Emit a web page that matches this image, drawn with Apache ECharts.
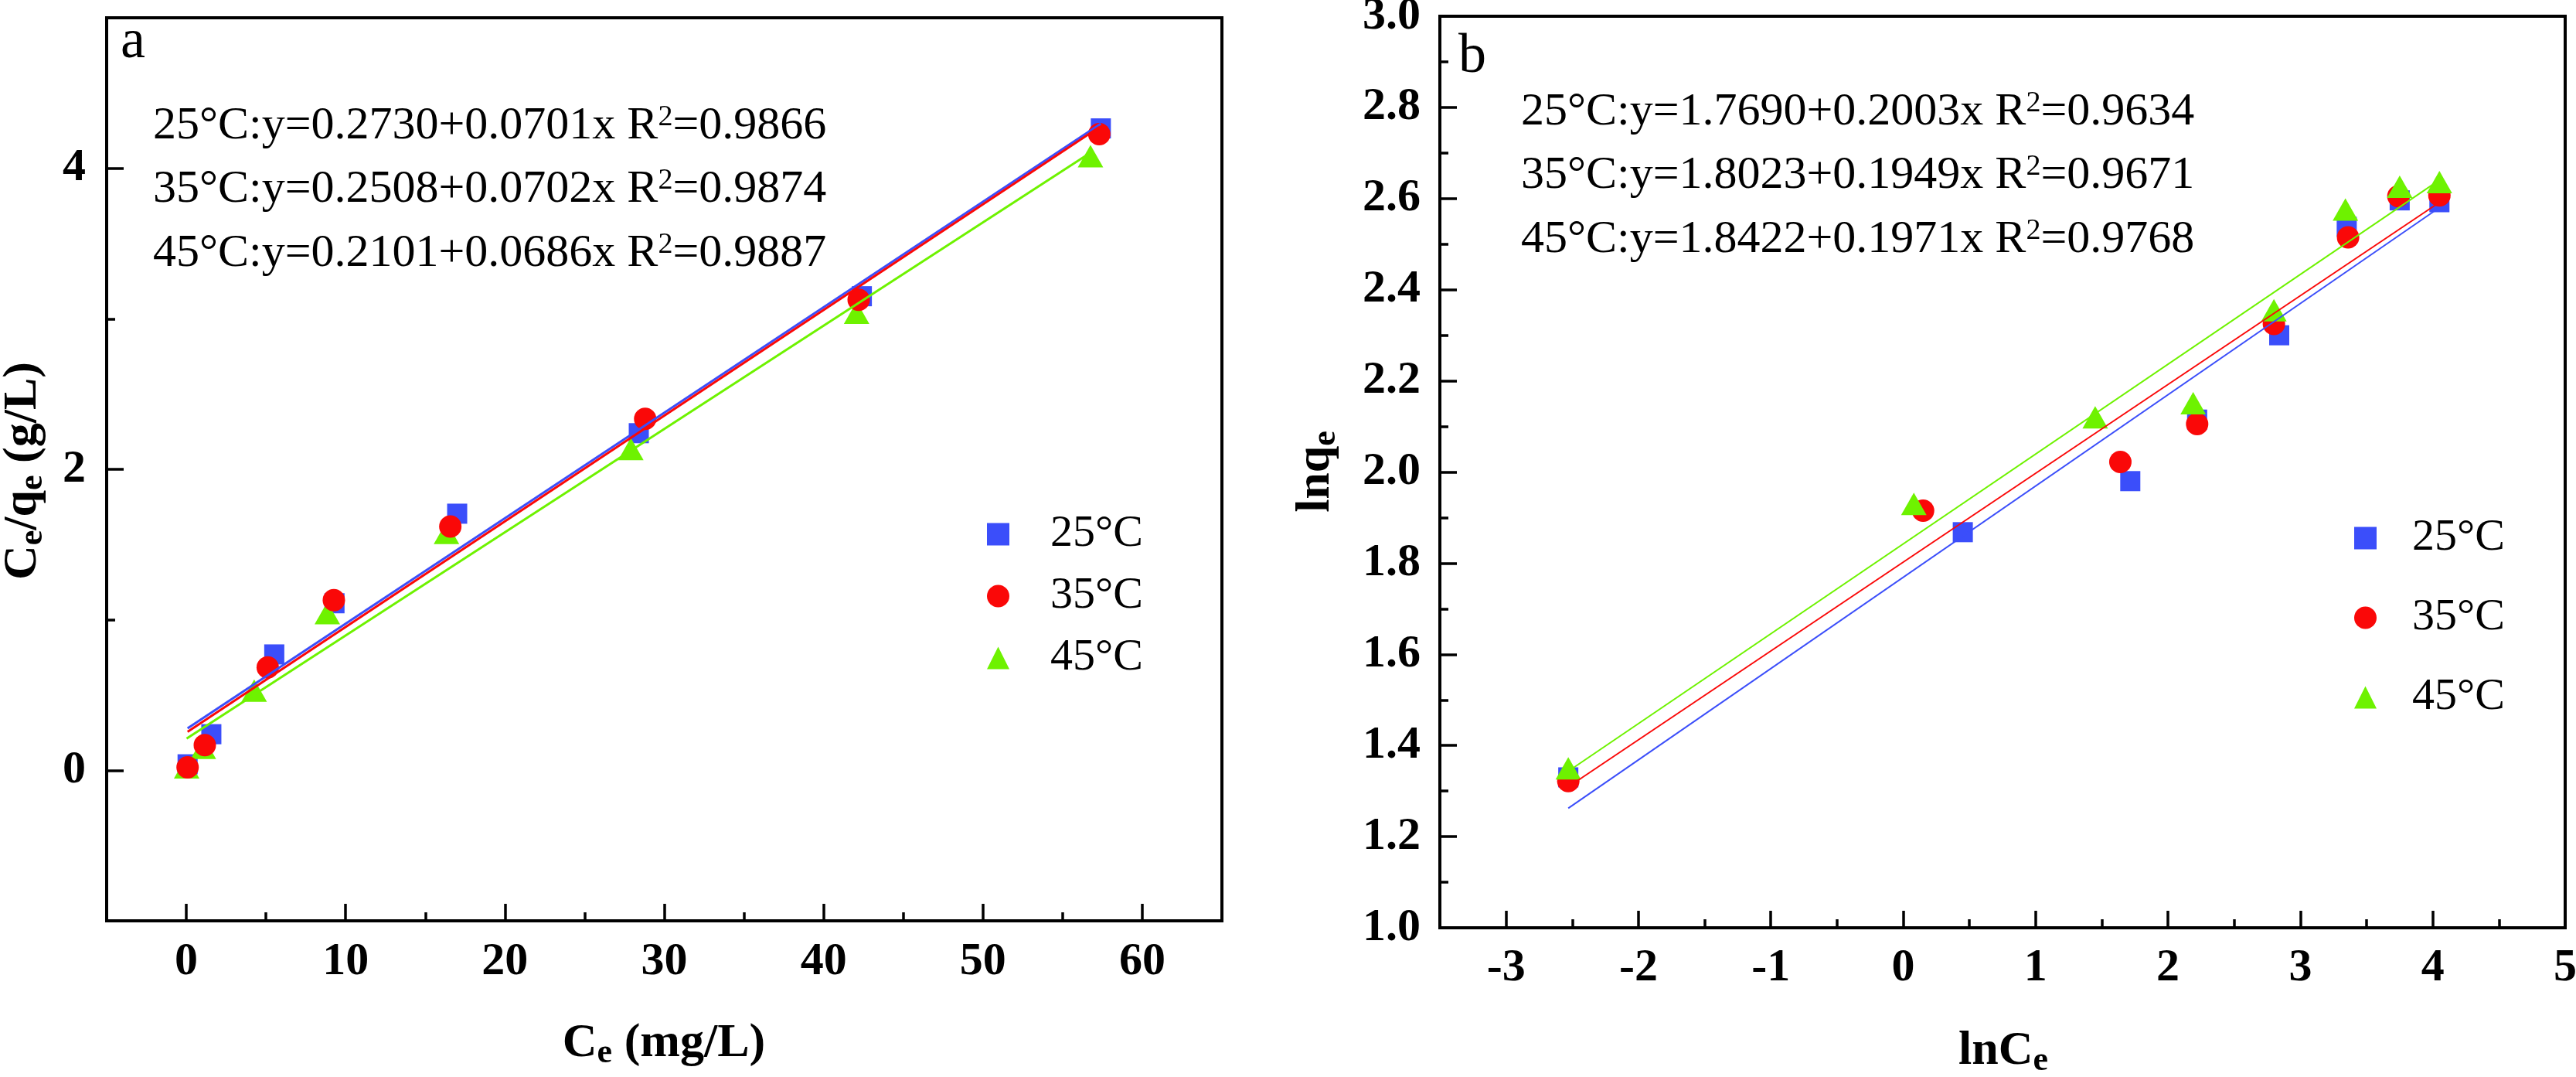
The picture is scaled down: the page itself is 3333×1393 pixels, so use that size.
<!DOCTYPE html>
<html>
<head>
<meta charset="utf-8">
<script src="https://cdn.jsdelivr.net/npm/echarts@6/dist/echarts.min.js"></script>
<style>html,body{margin:0;padding:0;background:#fff;}#chart{width:3333px;height:1393px;}</style>
</head>
<body>
<div id="chart"></div>
<script>
// ---------- data ----------
const tempNames = ['25°C', '35°C', '45°C'];
const colors = ['#3B4EFA', '#FA0808', '#6EF200'];
const symbols = ['rect', 'circle', 'triangle'];

// panel a: Ce (mg/L) vs Ce/qe (g/L)
const aCe25 = [0.08, 1.57, 5.52, 9.30, 17.0, 28.4, 42.4, 57.4];
const aRatio25 = [0.04, 0.24, 0.77, 1.11, 1.705, 2.24, 3.15, 4.265];
const aCe35 = [0.08, 1.16, 5.11, 9.26, 16.57, 28.8, 42.2, 57.3];
const aRatio35 = [0.02, 0.168, 0.684, 1.131, 1.62, 2.335, 3.126, 4.227];
const aCe45 = [0.02, 1.07, 4.26, 8.85, 16.33, 27.9, 42.07, 56.75];
const aRatio45 = [0.02, 0.15, 0.529, 1.045, 1.578, 2.135, 3.04, 4.08];
const aIntercept = [0.2730, 0.2508, 0.2101];
const aSlope = [0.0701, 0.0702, 0.0686];
const aR2 = [0.9866, 0.9874, 0.9887];
const aXTicks = [0, 10, 20, 30, 40, 50, 60];
const aXMinor = [5, 15, 25, 35, 45, 55];
const aYTicks = [0, 2, 4];
const aYMinor = [1, 3];

// panel b: lnCe vs lnqe
const bLnCe25 = [-2.53, 0.45, 1.715, 2.22, 2.84, 3.35, 3.75, 4.05];
const bLnQe25 = [1.33, 1.868, 1.98, 2.115, 2.30, 2.538, 2.596, 2.592];
const bLnCe35 = [-2.53, 0.15, 1.64, 2.22, 2.80, 3.36, 3.74, 4.05];
const bLnQe35 = [1.322, 1.915, 2.022, 2.105, 2.325, 2.515, 2.605, 2.607];
const bLnCe45 = [-2.53, 0.08, 1.45, 2.19, 2.80, 3.34, 3.75, 4.05];
const bLnQe45 = [1.35, 1.93, 2.12, 2.151, 2.355, 2.576, 2.626, 2.636];
const bIntercept = [1.7690, 1.8023, 1.8422];
const bSlope = [0.2003, 0.1949, 0.1971];
const bR2 = [0.9634, 0.9671, 0.9768];
const bXTicks = [-3, -2, -1, 0, 1, 2, 3, 4, 5];
const bXMinor = [-2.5, -1.5, -0.5, 0.5, 1.5, 2.5, 3.5, 4.5];

// ---------- helpers ----------
const FF = "'Liberation Serif','Times New Roman',serif";
const zip = (xs, ys) => xs.map((x, i) => [x, ys[i]]);
const fitLine = (xs, b0, b1) => {
  const lo = Math.min(...xs), hi = Math.max(...xs);
  return [[lo, b0 + b1 * lo], [hi, b0 + b1 * hi]];
};
const aX = [aCe25, aCe35, aCe45], aY = [aRatio25, aRatio35, aRatio45];
const bX = [bLnCe25, bLnCe35, bLnCe45], bY = [bLnQe25, bLnQe35, bLnQe45];
const symSize = [26, 29, [33, 29]];

const tickStyle = {color: '#000', width: 3.5};
const labelStyle = {fontFamily: FF, fontWeight: 'bold', fontSize: 60, color: '#000'};

function majorAxis(grid, min, max, ticks, margin, pos) {
  return {
    type: 'value', gridIndex: grid, min: min, max: max, position: pos,
    axisLine: {show: true, onZero: false, lineStyle: {color: '#000', width: 4}},
    axisTick: {show: true, inside: true, length: 22, lineStyle: tickStyle, customValues: ticks},
    axisLabel: Object.assign({margin: margin, customValues: ticks}, labelStyle),
    splitLine: {show: false}
  };
}
function minorAxis(grid, min, max, ticks, pos) {
  return {
    type: 'value', gridIndex: grid, min: min, max: max, position: pos,
    axisLine: {show: false, onZero: false},
    axisTick: {show: true, inside: true, length: 11, lineStyle: tickStyle, customValues: ticks},
    axisLabel: {show: false},
    splitLine: {show: false}
  };
}

const series = [];
// panel a scatter (blue, green, red order so red sits on top)
[0, 2, 1].forEach(i => {
  series.push({
    type: 'scatter', name: tempNames[i], xAxisIndex: 0, yAxisIndex: 0,
    data: zip(aX[i], aY[i]), symbol: symbols[i], symbolSize: symSize[i],
    itemStyle: {color: colors[i], opacity: 1}, z: 2
  });
});
// panel b scatter (blue, red, green)
[0, 1, 2].forEach(i => {
  series.push({
    type: 'scatter', name: tempNames[i], xAxisIndex: 2, yAxisIndex: 2,
    data: zip(bX[i], bY[i]), symbol: symbols[i], symbolSize: symSize[i],
    itemStyle: {color: colors[i], opacity: 1}, z: 2
  });
});
// fit lines
[0, 1, 2].forEach(i => {
  series.push({
    type: 'line', name: tempNames[i] + ' fit a', xAxisIndex: 0, yAxisIndex: 0,
    data: fitLine(aX[i], aIntercept[i], aSlope[i]), showSymbol: false, symbol: 'none',
    lineStyle: {color: colors[i], width: 3}, z: 3, silent: true
  });
  series.push({
    type: 'line', name: tempNames[i] + ' fit b', xAxisIndex: 2, yAxisIndex: 2,
    data: fitLine(bX[i], bIntercept[i], bSlope[i]), showSymbol: false, symbol: 'none',
    lineStyle: {color: colors[i], width: 2}, z: 3, silent: true
  });
});

const eqRich = {sup: {fontFamily: FF, fontSize: 38, lineHeight: 38, verticalAlign: 'top', fill: '#000'}};
function eqText(i, b0, b1, r2) {
  return tempNames[i] + ':y=' + b0[i].toFixed(4) + '+' + b1[i].toFixed(4) + 'x R{sup|2}=' + r2[i].toFixed(4);
}
const graphics = [];
const aEqY = [163, 245, 328], bEqY = [145, 227, 310];
[0, 1, 2].forEach(i => {
  graphics.push({type: 'text', x: 198, y: aEqY[i], z: 10, style: {
    text: eqText(i, aIntercept, aSlope, aR2), font: '60px ' + FF, fill: '#000',
    textAlign: 'left', textVerticalAlign: 'middle', lineHeight: 60, rich: eqRich}});
  graphics.push({type: 'text', x: 1968, y: bEqY[i], z: 10, style: {
    text: eqText(i, bIntercept, bSlope, bR2), font: '60px ' + FF, fill: '#000',
    textAlign: 'left', textVerticalAlign: 'middle', lineHeight: 60, rich: eqRich}});
});
// panel letters
graphics.push({type: 'text', x: 156, y: 55, style: {text: 'a', font: '72px ' + FF, fill: '#000', textAlign: 'left', textVerticalAlign: 'middle'}});
graphics.push({type: 'text', x: 1887, y: 74, style: {text: 'b', font: '72px ' + FF, fill: '#000', textAlign: 'left', textVerticalAlign: 'middle'}});
// axis titles
const titleRich = {
  sub: {fontFamily: FF, fontWeight: 'bold', fontSize: 44, lineHeight: 40, verticalAlign: 'bottom', fill: '#000'}
};
function title(text, x, y, rot) {
  return {type: 'text', x: x, y: y, rotation: rot || 0, style: {
    text: text, font: 'bold 62px ' + FF, fill: '#000', textAlign: 'center', textVerticalAlign: 'middle',
    lineHeight: 70, rich: titleRich}};
}
graphics.push(title('C{sub|e} (mg/L)', 859, 1350));
graphics.push(title('lnC{sub|e}', 2592, 1360));
graphics.push(title('C{sub|e}/q{sub|e} (g/L)', 30, 609, Math.PI / 2));
graphics.push(title('lnq{sub|e}', 1703, 610, Math.PI / 2));

const legendData = tempNames.map((n, i) => ({name: n, icon: symbols[i], itemStyle: {color: colors[i]}}));
function legendText(padLeft) {
  return {fontFamily: FF, fontSize: 58, lineHeight: 60, color: '#000', padding: [0, 0, 0, padLeft]};
}

const option = {
  animation: false,
  backgroundColor: '#ffffff',
  grid: [
    {left: 138, top: 23, width: 1443, height: 1168, show: true, borderColor: '#000', borderWidth: 4, backgroundColor: 'transparent', outerBoundsMode: 'none'},
    {left: 1863, top: 21, width: 1456, height: 1179, show: true, borderColor: '#000', borderWidth: 4, backgroundColor: 'transparent', outerBoundsMode: 'none'}
  ],
  xAxis: [
    majorAxis(0, -5, 65, aXTicks, 23, 'bottom'),
    minorAxis(0, -5, 65, aXMinor, 'bottom'),
    majorAxis(1, -3.5, 5, bXTicks, 22, 'bottom'),
    minorAxis(1, -3.5, 5, bXMinor, 'bottom')
  ],
  yAxis: [
    majorAxis(0, -1, 5, aYTicks, 27, 'left'),
    minorAxis(0, -1, 5, aYMinor, 'left'),
    {
      type: 'value', gridIndex: 1, min: 1, max: 3, interval: 0.2, position: 'left',
      axisLine: {show: true, onZero: false, lineStyle: {color: '#000', width: 4}},
      axisTick: {show: true, inside: true, length: 22, lineStyle: tickStyle},
      minorTick: {show: true, splitNumber: 2, length: 11, lineStyle: tickStyle},
      axisLabel: Object.assign({margin: 25, formatter: v => v.toFixed(1)}, labelStyle),
      splitLine: {show: false}, minorSplitLine: {show: false}
    }
  ],
  legend: [
    {data: legendData, orient: 'vertical', left: 1277, top: 661, itemWidth: 29, itemHeight: 29, itemGap: 20,
     textStyle: legendText(48), selectedMode: false, padding: 0},
    {data: legendData, orient: 'vertical', left: 3046, top: 666, itemWidth: 29, itemHeight: 29, itemGap: 43,
     textStyle: legendText(41), selectedMode: false, padding: 0}
  ],
  series: series,
  graphic: graphics
};

const chart = echarts.init(document.getElementById('chart'), null, {renderer: 'canvas'});
chart.setOption(option);
</script>
</body>
</html>
